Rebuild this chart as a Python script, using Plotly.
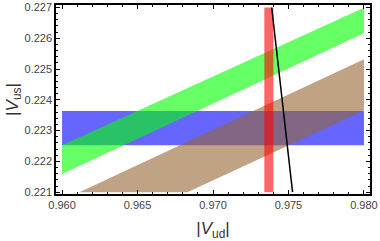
import plotly.graph_objects as go

# Data
# blue horizontal band (|Vus| range)
blue_vud = [0.96, 0.98]
blue_vus_low = 0.22252
blue_vus_high = 0.22364

# green diagonal band: edges at x = 0.96 and 0.98
green_vud = [0.96, 0.98]
green_upper = [0.22252, 0.22699]
green_lower = [0.22159, 0.22616]

# brown diagonal band (clipped at |Vus| = 0.221)
brown_upper_vud = [0.96115, 0.98]
brown_upper_vus = [0.221, 0.22532]
brown_lower_vud = [0.9683, 0.98]
brown_lower_vus = [0.221, 0.22365]

# red vertical band (|Vud| range)
red_vud_low = 0.9734
red_vud_high = 0.9740
red_vus = [0.221, 0.227]

# black unitarity line
line_vud = [0.97389, 0.97527]
line_vus = [0.227, 0.221]

x_ticks = [0.96, 0.965, 0.97, 0.975, 0.98]
x_ticklabels = ["0.960", "0.965", "0.970", "0.975", "0.980"]
y_ticks = [0.221, 0.222, 0.223, 0.224, 0.225, 0.226, 0.227]
y_ticklabels = ["0.221", "0.222", "0.223", "0.224", "0.225", "0.226", "0.227"]

fig = go.Figure()

fig.add_trace(go.Scatter(
    x=[blue_vud[0], blue_vud[1], blue_vud[1], blue_vud[0]],
    y=[blue_vus_low, blue_vus_low, blue_vus_high, blue_vus_high],
    fill="toself", fillcolor="rgba(0,0,255,0.6)", mode="none", hoverinfo="skip"))

fig.add_trace(go.Scatter(
    x=green_vud + green_vud[::-1],
    y=green_upper + green_lower[::-1],
    fill="toself", fillcolor="rgba(0,255,0,0.6)", mode="none", hoverinfo="skip"))

fig.add_trace(go.Scatter(
    x=brown_upper_vud + brown_lower_vud[::-1],
    y=brown_upper_vus + brown_lower_vus[::-1],
    fill="toself", fillcolor="rgba(150,100,50,0.6)", mode="none", hoverinfo="skip"))

fig.add_trace(go.Scatter(
    x=[red_vud_low, red_vud_high, red_vud_high, red_vud_low],
    y=[red_vus[0], red_vus[0], red_vus[1], red_vus[1]],
    fill="toself", fillcolor="rgba(255,0,0,0.6)", mode="none", hoverinfo="skip"))

fig.add_trace(go.Scatter(
    x=line_vud, y=line_vus, mode="lines",
    line=dict(color="black", width=1.5), hoverinfo="skip"))

FONT = "Liberation Sans, Arial, sans-serif"
tickfont = dict(family=FONT, size=11, color="#444")
axis_common = dict(
    showgrid=False, zeroline=False, showline=True, linecolor="black", linewidth=1.5,
    mirror="allticks", ticks="inside", ticklen=4, tickwidth=1, tickcolor="black",
    tickfont=tickfont, ticklabeloverflow="allow",
)

fig.update_layout(
    width=380, height=241,
    margin=dict(l=56, r=10, t=1, b=46),
    paper_bgcolor="white", plot_bgcolor="white",
    showlegend=False,
    xaxis=dict(
        range=[0.9596, 0.9804], tickvals=x_ticks, ticktext=x_ticklabels,
        minor=dict(dtick=0.001, ticks="inside", ticklen=2, tickcolor="black"),
        title=dict(text="|<i>V</i><sub>ud</sub>|", font=dict(family=FONT, size=17, color="#333"), standoff=17),
        **axis_common),
    yaxis=dict(
        range=[0.22094, 0.22708], tickvals=y_ticks, ticktext=y_ticklabels,
        minor=dict(dtick=0.0002, ticks="inside", ticklen=2, tickcolor="black"),
        title=dict(text="|<i>V</i><sub>us</sub>|", font=dict(family=FONT, size=17, color="#333"), standoff=2),
        **axis_common),
)

fig.write_html("out.html", config={"displayModeBar": False},
               post_script="document.body.style.margin='0';document.body.style.padding='0';document.documentElement.style.overflow='hidden';")
